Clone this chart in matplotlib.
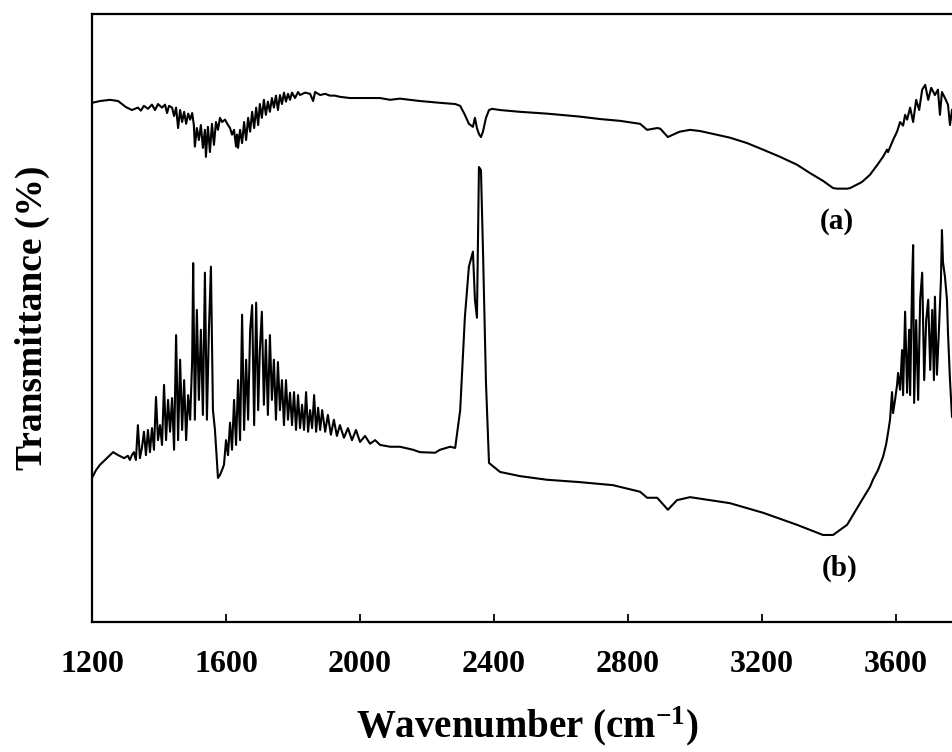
import matplotlib
matplotlib.use("Agg")
import matplotlib.pyplot as plt

# ---------------- data ----------------
wn_a = [1200, 1224, 1254, 1278, 1301, 1319, 1337, 1346, 1355, 1367, 1379, 1388, 1397, 1409, 1418, 1424, 1430,
        1439, 1445, 1451, 1457, 1463, 1469, 1475, 1481, 1487, 1493, 1499, 1504, 1507, 1513, 1519, 1525, 1531,
        1537, 1540, 1546, 1552, 1558, 1564, 1570, 1576, 1582, 1588, 1597, 1606, 1612, 1618, 1624, 1630, 1633,
        1636, 1642, 1648, 1654, 1660, 1666, 1672, 1678, 1684, 1690, 1696, 1701, 1707, 1713, 1719, 1725, 1731,
        1737, 1743, 1749, 1755, 1761, 1767, 1773, 1779, 1785, 1791, 1797, 1806, 1815, 1821, 1836, 1851, 1860,
        1866, 1881, 1896, 1910, 1925, 1940, 1970, 2000, 2030, 2060, 2090, 2119, 2179, 2239, 2284, 2299, 2313,
        2325, 2337, 2343, 2349, 2355, 2361, 2367, 2376, 2385, 2394, 2418, 2478, 2558, 2657, 2716, 2776, 2836,
        2857, 2887, 2896, 2919, 2946, 2955, 2985, 3015, 3104, 3155, 3203, 3254, 3304, 3343, 3382, 3412, 3424,
        3454, 3463, 3498, 3522, 3546, 3561, 3573, 3576, 3591, 3603, 3612, 3621, 3627, 3633, 3642, 3651, 3660,
        3669, 3678, 3687, 3696, 3705, 3716, 3725, 3731, 3737, 3746, 3755, 3761, 3767]
t_a = [86.5, 86.8, 87.0, 86.8, 85.8, 85.3, 85.7, 85.2, 86.0, 85.5, 86.2, 85.3, 86.3, 85.7, 86.2, 84.8, 86.0,
       85.7, 84.3, 85.7, 82.3, 85.3, 83.3, 85.0, 83.0, 84.7, 83.7, 84.8, 82.8, 79.2, 82.3, 80.3, 82.8, 79.0,
       82.0, 77.5, 82.5, 78.3, 83.0, 79.5, 83.3, 82.0, 84.0, 83.3, 83.7, 82.8, 82.3, 81.2, 82.0, 79.2, 81.2,
       79.0, 82.0, 79.8, 83.3, 80.3, 84.0, 81.7, 85.0, 82.3, 85.7, 82.8, 86.3, 84.0, 87.0, 84.5, 86.7, 85.0,
       87.3, 85.7, 87.7, 85.3, 87.8, 86.3, 88.2, 86.7, 88.0, 87.0, 88.2, 87.3, 88.3, 87.8, 88.2, 88.0, 86.8,
       88.3, 87.8, 88.0, 87.7, 87.7, 87.5, 87.3, 87.3, 87.3, 87.3, 87.0, 87.2, 86.8, 86.5, 86.3, 86.0, 84.5,
       83.0, 82.5, 84.0, 82.3, 81.3, 80.8, 81.7, 84.0, 85.3, 85.5, 85.3, 85.0, 84.7, 84.2, 83.8, 83.5, 83.0,
       82.0, 82.3, 82.2, 80.8, 81.5, 81.7, 82.0, 81.8, 80.7, 79.8, 78.7, 77.5, 76.2, 74.8, 73.5, 72.3, 72.2,
       72.2, 72.3, 73.3, 74.5, 76.3, 77.5, 78.7, 78.3, 80.3, 81.7, 83.3, 82.7, 84.5, 83.7, 85.7, 83.3, 87.0,
       85.3, 88.7, 89.5, 87.0, 89.0, 87.8, 88.7, 84.5, 88.3, 87.3, 86.2, 82.8, 85.3]

wn_b = [1200, 1212, 1224, 1239, 1254, 1263, 1278, 1296, 1307, 1313, 1319, 1325, 1331, 1337, 1343, 1349, 1355,
        1361, 1367, 1373, 1379, 1385, 1391, 1397, 1403, 1409, 1415, 1421, 1427, 1433, 1439, 1445, 1451, 1457,
        1463, 1469, 1475, 1481, 1487, 1493, 1499, 1502, 1507, 1513, 1519, 1525, 1531, 1537, 1543, 1549, 1555,
        1561, 1567, 1576, 1582, 1588, 1594, 1600, 1606, 1612, 1618, 1624, 1630, 1636, 1642, 1648, 1654, 1660,
        1666, 1672, 1678, 1684, 1690, 1696, 1701, 1707, 1713, 1719, 1725, 1731, 1737, 1743, 1749, 1755, 1761,
        1767, 1773, 1779, 1785, 1791, 1797, 1803, 1809, 1815, 1821, 1827, 1833, 1839, 1845, 1851, 1857, 1863,
        1869, 1875, 1881, 1887, 1896, 1904, 1913, 1922, 1931, 1940, 1952, 1964, 1976, 1988, 2000, 2015, 2030,
        2045, 2060, 2090, 2119, 2158, 2179, 2224, 2239, 2269, 2284, 2299, 2313, 2325, 2337, 2343, 2349, 2355,
        2361, 2367, 2376, 2385, 2418, 2478, 2558, 2657, 2755, 2836, 2857, 2887, 2919, 2946, 2985, 3104, 3203,
        3304, 3382, 3412, 3454, 3498, 3522, 3531, 3546, 3561, 3570, 3576, 3582, 3588, 3591, 3597, 3603, 3606,
        3612, 3618, 3621, 3627, 3633, 3639, 3642, 3648, 3651, 3654, 3660, 3666, 3672, 3678, 3684, 3690, 3696,
        3702, 3708, 3713, 3716, 3722, 3728, 3734, 3737, 3740, 3746, 3752, 3755, 3761, 3767]
t_b = [24.0, 25.3, 26.2, 27.0, 27.8, 28.3, 27.8, 27.3, 27.7, 27.0, 27.8, 28.3, 27.0, 32.8, 27.3, 29.0, 31.7,
       27.8, 32.0, 28.3, 32.3, 28.7, 37.5, 30.3, 32.8, 29.5, 39.5, 30.3, 37.0, 31.7, 37.3, 28.7, 47.8, 30.3,
       43.7, 32.0, 40.3, 30.3, 37.8, 33.7, 43.7, 59.8, 33.7, 52.0, 37.0, 48.7, 34.5, 58.2, 33.7, 48.7, 59.2,
       35.3, 32.0, 24.0, 24.5, 25.3, 26.2, 30.3, 27.8, 33.2, 28.7, 37.0, 29.5, 40.3, 30.3, 51.2, 32.0, 43.7,
       33.7, 48.7, 52.8, 32.8, 53.2, 35.3, 45.3, 51.7, 36.2, 47.0, 34.5, 47.8, 37.0, 43.7, 33.7, 43.3, 35.3,
       40.3, 32.8, 40.3, 33.7, 38.2, 32.8, 38.3, 32.0, 37.8, 32.3, 36.2, 32.0, 38.3, 31.7, 35.3, 32.3, 37.8,
       31.7, 35.7, 32.0, 35.3, 31.7, 34.5, 31.2, 33.7, 31.0, 32.8, 30.7, 32.3, 30.3, 32.0, 30.0, 31.0, 29.7,
       30.3, 29.5, 29.2, 29.2, 28.7, 28.3, 28.2, 28.7, 29.2, 29.0, 35.3, 50.8, 59.2, 61.7, 53.7, 50.7, 75.8,
       75.3, 62.0, 39.8, 26.5, 25.0, 24.3, 23.7, 23.3, 22.8, 21.7, 20.7, 20.7, 18.7, 20.3, 20.8, 19.8, 18.2,
       16.2, 14.5, 14.5, 16.2, 20.3, 22.5, 23.7, 25.3, 27.5, 29.5, 31.5, 33.7, 38.3, 34.8, 37.0, 39.5, 41.5,
       38.7, 45.3, 37.8, 51.7, 38.2, 48.7, 37.8, 57.0, 62.8, 36.5, 50.3, 37.0, 53.7, 58.2, 40.3, 50.3, 53.7,
       42.0, 52.0, 40.3, 54.2, 41.2, 48.7, 57.0, 65.3, 60.0, 57.5, 53.7, 48.2, 40.3, 34.2]

x_ticks = [1200, 1600, 2000, 2400, 2800, 3200, 3600]
x_range = (1200, 3767)
y_range = (0, 101.3)
labels = ["(a)", "(b)"]
label_pos = [(3424, 66.7), (3433, 9.0)]

# ---------------- figure ----------------
plt.rcParams['font.family'] = ['Liberation Serif', 'DejaVu Serif']
plt.rcParams['font.weight'] = 'bold'
plt.rcParams['mathtext.fontset'] = 'custom'
plt.rcParams['mathtext.rm'] = 'Liberation Serif:bold'
plt.rcParams['mathtext.bf'] = 'Liberation Serif:bold'
plt.rcParams['mathtext.default'] = 'rm'

fig = plt.figure(figsize=(9.52, 7.52), dpi=100)
ax = fig.add_axes([92 / 952, 130 / 752, 1 - 92 / 952, (622 - 14) / 752])

ax.plot(wn_a, t_a, color='black', lw=1.5)
ax.plot(wn_b, t_b, color='black', lw=1.5)

for lab, (lx, ly) in zip(labels, label_pos):
    ax.text(lx, ly, lab, ha='center', va='center', fontsize=21, fontweight='bold')

ax.set_xlim(*x_range)
ax.set_ylim(*y_range)
ax.set_xticks(x_ticks)
ax.set_yticks([])
ax.tick_params(axis='x', direction='in', length=6, width=1.3, labelsize=23, pad=20)
for lab in ax.get_xticklabels():
    lab.set_fontweight('bold')
for side in ['left', 'bottom', 'top']:
    ax.spines[side].set_linewidth(1.6)
ax.spines['right'].set_visible(False)

ax.set_xlabel(r'Wavenumber (cm$^{-1}$)', fontsize=28, fontweight='bold')
ax.set_ylabel('Transmittance (%)', fontsize=27, fontweight='bold')
ax.xaxis.set_label_coords(0.506, -0.135)
ax.yaxis.set_label_coords(-0.049, 0.5)

fig.savefig('out.png', dpi=100)
